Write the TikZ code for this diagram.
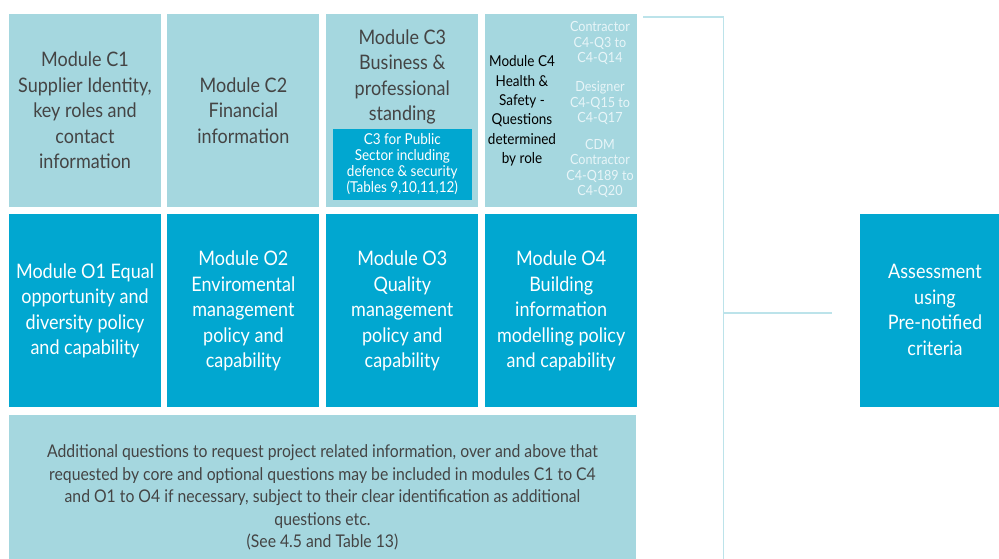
\documentclass[tikz,border=0pt]{standalone}
\usepackage{fontspec}
\setmainfont{Lato}[FakeStretch=0.9]
\usetikzlibrary{positioning}

\definecolor{paleteal}{HTML}{A5D7DF}
\definecolor{deepblue}{HTML}{01A7D0}
\definecolor{inktext}{HTML}{444444}
\definecolor{linkline}{HTML}{BCE3EA}
\definecolor{faintwhite}{HTML}{E8F5F8}

\tikzset{
  corebox/.style={fill=paleteal, text=inktext, minimum width=152pt, minimum height=193pt,
    inner sep=0pt, align=center, font=\fontsize{20}{25.5}\selectfont},
  optbox/.style={corebox, fill=deepblue, text=white},
  rolenote/.style={text=faintwhite, align=center, inner sep=0pt, font=\fontsize{14}{15.5}\selectfont},
  link/.style={draw=linkline, line width=1.5pt}
}

\begin{document}
\begin{tikzpicture}[x=1pt,y=-1pt]
\clip (0,0) rectangle (999,559);
\fill[white] (0,0) rectangle (999,559);

% core modules
\node[corebox] (c1) at (85,110.5) {Module C1\\Supplier Identity,\\key roles and\\contact\\information};
\node[corebox, right=6pt of c1] (c2) {Module C2\\Financial\\information};
\node[corebox, right=6.5pt of c2] (c3) {};
\node[corebox, right=6.5pt of c3] (c4) {};

\node[text=inktext, align=center, font=\fontsize{20}{25.5}\selectfont] (c3title) at ([yshift=-63pt]c3.north) {Module C3\\Business \&\\professional\\standing};
\node[optbox, minimum width=139pt, minimum height=71pt, anchor=south, font=\fontsize{15}{16}\selectfont] (c3pub) at ([yshift=7pt]c3.south) {C3 for Public\\Sector including\\defence \& security\\(Tables 9,10,11,12)};

\node[text=black, align=center, font=\fontsize{15}{19.3}\selectfont] (c4title) at (522,111) {Module C4\\Health \&\\Safety -\\Questions\\determined\\by role};
\node[rolenote] (contractor) at (600,43) {Contractor\\C4-Q3 to\\C4-Q14};
\node[rolenote] (designer) at (600,103) {Designer\\C4-Q15 to\\C4-Q17};
\node[rolenote] (cdm) at (600,168.5) {CDM\\Contractor\\C4-Q189 to\\C4-Q20};

% optional modules
\node[optbox, below=7pt of c1] (o1) {Module O1 Equal\\opportunity and\\diversity policy\\and capability};
\node[optbox, below=7pt of c2] (o2) {Module O2\\Enviromental\\management\\policy and\\capability};
\node[optbox, below=7pt of c3] (o3) {Module O3\\Quality\\management\\policy and\\capability};
\node[optbox, below=7pt of c4] (o4) {Module O4\\Building\\information\\modelling policy\\and capability};

% additional questions
\node[corebox, minimum width=627pt, minimum height=166pt, below right=7pt and 0pt of o1.south west,
  font=\fontsize{17.5}{22.5}\selectfont] (extra)
  {Additional questions to request project related information, over and above that\\
   requested by core and optional questions may be included in modules C1 to C4\\
   and O1 to O4 if necessary, subject to their clear identification as additional\\
   questions etc.\\(See 4.5 and Table 13)};

% assessment
\node[optbox, minimum width=150pt] (assess) at (935,310) {Assessment\\using\\Pre-notified\\criteria};

% bracket
\coordinate (jtop) at ([xshift=6pt,yshift=-3pt]c4.north east);
\coordinate (arm) at ([xshift=-28pt,yshift=-3pt]assess.west);
\draw[link] (jtop) -- ++(80,0) coordinate (jcorner) -- ++(0,560);
\draw[link] (jcorner |- arm) -- (arm);
\end{tikzpicture}
\end{document}
